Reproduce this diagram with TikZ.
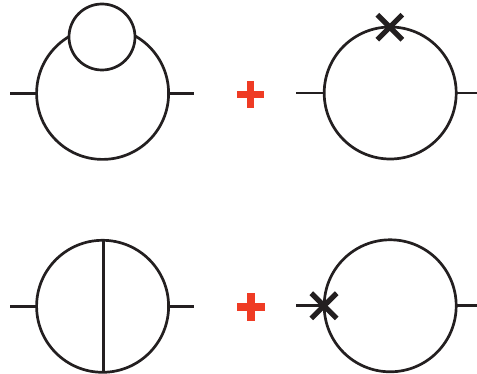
\documentclass[tikz,border=0pt]{standalone}
\usetikzlibrary{calc}
\definecolor{ink}{HTML}{231F20}
\definecolor{plusred}{HTML}{EF3B24}
\tikzset{
  loopc/.style={draw=ink,line width=2.7pt,circle,inner sep=0pt,outer sep=0pt,minimum size=#1},
  leg/.style={draw=ink,line width=2.7pt},
  crossarm/.style={draw=ink,line width=5.2pt},
  plusarm/.style={draw=plusred,line width=7.2pt},
}
\begin{document}
\begin{tikzpicture}[x=1pt,y=-1pt]
\useasboundingbox (0,0) rectangle (477,374);
% top left
\node[loopc=132pt] (a) at (102.6,93.4) {};
\node[loopc=66pt,fill=white] (as) at (102,37) {};
\coordinate (al) at (10,93.4);
\coordinate (ar) at (194,93.4);
\draw[leg] (al) -- (a.west);
\draw[leg] (a.east) -- (ar);
% top plus
\coordinate (p1) at (250.4,94.3);
\draw[plusarm] ([xshift=-13.4pt]p1) -- ([xshift=13.4pt]p1);
\draw[plusarm] ([yshift=-13.4pt]p1) -- ([yshift=13.4pt]p1);
% top right
\node[loopc=132pt] (b) at (390.2,93) {};
\coordinate (bl) at (296.3,93);
\coordinate (br) at (477,93);
\draw[leg] (bl) -- (b.west);
\draw[leg] (b.east) -- (br);
\coordinate (bx) at (389.8,27.2);
\draw[crossarm] ($(bx)+(-12.5,-12.5)$) -- ($(bx)+(12.5,12.5)$);
\draw[crossarm] ($(bx)+(-12.5,12.5)$) -- ($(bx)+(12.5,-12.5)$);
% bottom left
\node[loopc=132pt] (c) at (102.6,306.3) {};
\coordinate (cl) at (10,306.3);
\coordinate (cr) at (194,306.3);
\draw[leg] (cl) -- (c.west);
\draw[leg] (c.east) -- (cr);
\draw[leg] (103.6,240.3) coordinate (ct) -- (103.6,372.3) coordinate (cb);
% bottom plus
\coordinate (p2) at (251,307);
\draw[plusarm] ([xshift=-14pt]p2) -- ([xshift=14pt]p2);
\draw[plusarm] ([yshift=-14pt]p2) -- ([yshift=14pt]p2);
% bottom right
\node[loopc=132pt] (d) at (390.2,305.8) {};
\coordinate (dl) at (296.3,305.8);
\coordinate (dr) at (477,305.8);
\draw[leg] (dl) -- (d.west);
\draw[leg] (d.east) -- (dr);
\coordinate (dx) at (324,305.8);
\draw[crossarm] ($(dx)+(-12.7,-12.6)$) -- ($(dx)+(12.7,12.6)$);
\draw[crossarm] ($(dx)+(-12.7,12.6)$) -- ($(dx)+(12.7,-12.6)$);
\end{tikzpicture}
\end{document}
